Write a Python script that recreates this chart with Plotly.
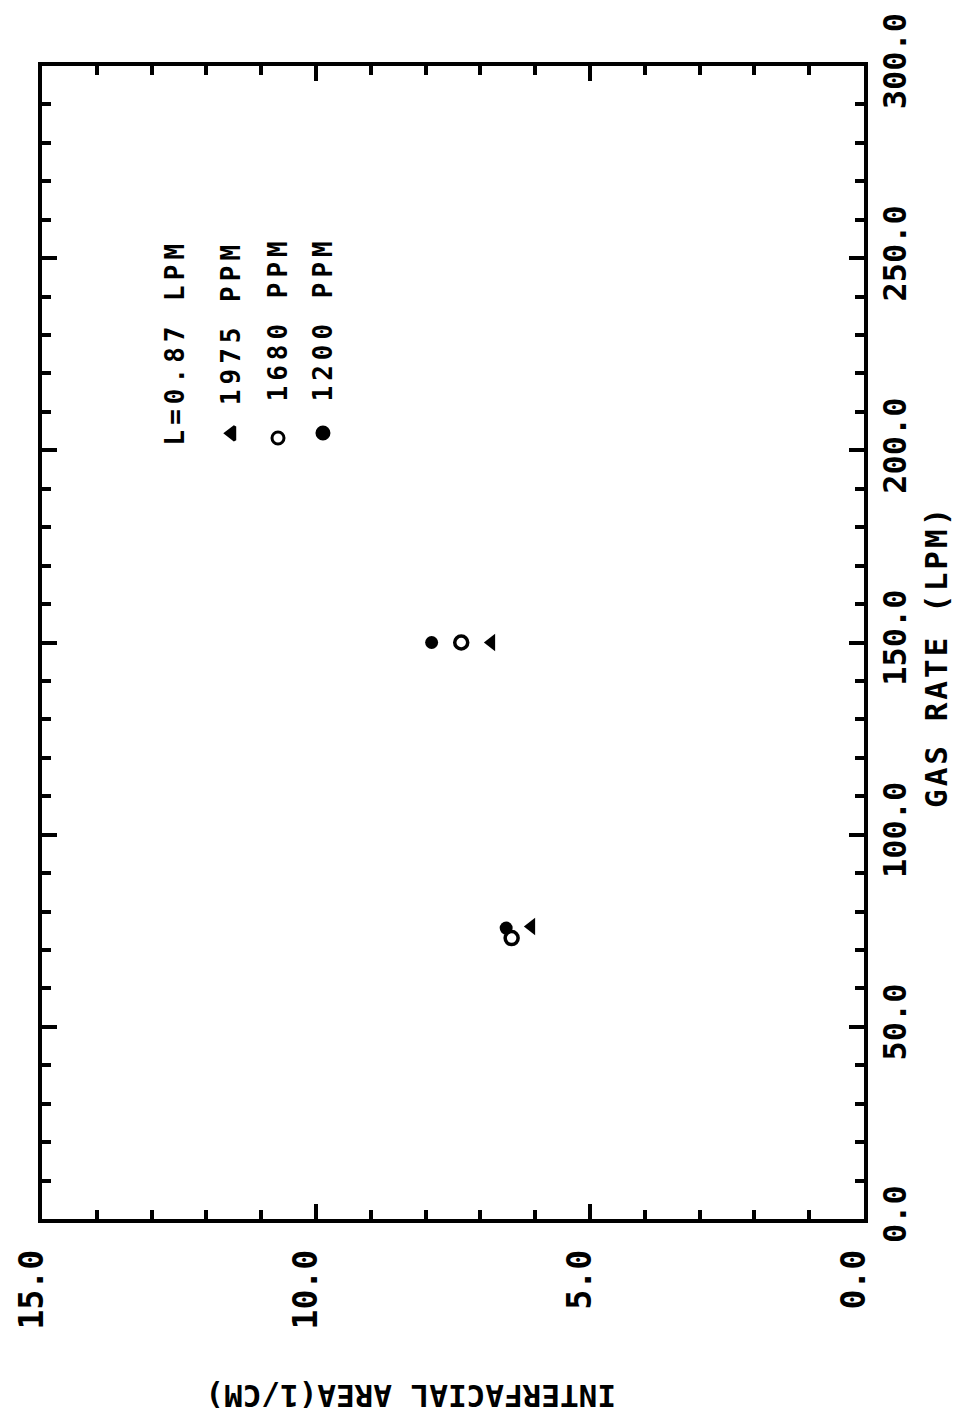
import plotly.graph_objects as go

# Data (original chart: x = gas rate, y = interfacial area; picture is rotated 90 deg CCW)
gas_rate_1975 = [76.1, 150.0]
area_1975 = [6.07, 6.80]
gas_rate_1680 = [73.1, 150.0]
area_1680 = [6.43, 7.35]
gas_rate_1200 = [75.7, 150.0]
area_1200 = [6.53, 7.89]

gas_ticks = [0, 50, 100, 150, 200, 250, 300]
area_ticks = [0, 5, 10, 15]

legend_title = "L=0.87 LPM"
legend_labels = ["1975 PPM", "1680 PPM", "1200 PPM"]

FONT = "DejaVu Sans Mono"
INK = "black"

fig = go.Figure()

fig.add_trace(go.Scatter(x=area_1975, y=gas_rate_1975, mode="markers",
                         marker=dict(symbol="triangle-left", size=15, color=INK),
                         showlegend=False))
fig.add_trace(go.Scatter(x=area_1680, y=gas_rate_1680, mode="markers",
                         marker=dict(symbol="circle-open", size=13, color=INK,
                                     line=dict(width=3.5, color=INK)),
                         showlegend=False))
fig.add_trace(go.Scatter(x=area_1200, y=gas_rate_1200, mode="markers",
                         marker=dict(symbol="circle", size=13, color=INK),
                         showlegend=False))

# Custom rotated legend: markers on an overlay axis spanning the plot area
leg_x = [0.2308, 0.2871, 0.3418]
leg_y = [0.6814, 0.6774, 0.6817]
leg_sym = ["triangle-left", "circle-open", "circle"]
for i in range(3):
    fig.add_trace(go.Scatter(x=[leg_x[i]], y=[leg_y[i]], mode="markers",
                             xaxis="x2", yaxis="y2",
                             marker=dict(symbol=leg_sym[i], size=12, color=INK,
                                         line=dict(width=3, color=INK)),
                             showlegend=False))

ls = "letter-spacing:5px"
fig.add_annotation(x=0.1618, y=0.6696, xref="paper", yref="paper",
                   text=f'<span style="{ls}">{legend_title}</span>', textangle=-90,
                   xanchor="center", yanchor="bottom", showarrow=False,
                   font=dict(family=FONT, size=26, color=INK, weight="bold"))
leg_text_y = [0.7043, 0.7077, 0.7077]
for i in range(3):
    fig.add_annotation(x=leg_x[i], y=leg_text_y[i], xref="paper", yref="paper",
                       text=f'<span style="{ls}">{legend_labels[i]}</span>', textangle=-90,
                       xanchor="center", yanchor="bottom", showarrow=False,
                       font=dict(family=FONT, size=26, color=INK, weight="bold"))

# Axis titles
fig.add_annotation(x=(936 - 42) / 822, y=(1219 - 656) / 1153, xref="paper", yref="paper",
                   text='<span style="letter-spacing:3px">GAS RATE (LPM)</span>', textangle=-90,
                   xanchor="center", yanchor="middle", showarrow=False,
                   font=dict(family=FONT, size=31, color=INK, weight="bold"))
fig.add_annotation(x=(411 - 42) / 822, y=(1219 - 1396) / 1153, xref="paper", yref="paper",
                   text="INTERFACIAL AREA(1/CM)", textangle=180,
                   xanchor="center", yanchor="middle", showarrow=False,
                   font=dict(family=FONT, size=31, color=INK, weight="bold"))

fig.update_layout(
    width=964, height=1417,
    margin=dict(l=42, r=100, t=66, b=198),
    paper_bgcolor="white", plot_bgcolor="white",
    showlegend=False,
    xaxis=dict(
        range=[15, 0], tickvals=area_ticks, tickformat=".1f", tickangle=-90,
        showgrid=False, zeroline=False,
        showline=True, linewidth=3.5, linecolor=INK, mirror="allticks",
        ticks="inside", ticklen=15, tickwidth=3.5, tickcolor=INK,
        minor=dict(dtick=1, ticks="inside", ticklen=9, tickwidth=3.5, tickcolor=INK, showgrid=False),
        ticklabelstandoff=14, ticklabelshift=10,
        tickfont=dict(family=FONT, size=33, color=INK, weight="bold"),
    ),
    yaxis=dict(
        range=[0, 300], tickvals=gas_ticks, tickformat=".1f", tickangle=-90, side="right",
        showgrid=False, zeroline=False,
        showline=True, linewidth=3.5, linecolor=INK, mirror="allticks",
        ticks="inside", ticklen=15, tickwidth=3.5, tickcolor=INK,
        minor=dict(dtick=10, ticks="inside", ticklen=9, tickwidth=3.5, tickcolor=INK, showgrid=False),
        ticklabelstandoff=0,
        tickfont=dict(family=FONT, size=32, color=INK, weight="bold"),
    ),
    xaxis2=dict(overlaying="x", range=[0, 1], visible=False),
    yaxis2=dict(overlaying="y", range=[0, 1], visible=False),
)

fig.write_html("out.html", config={"displayModeBar": False},
               post_script="document.body.style.margin='0';")
